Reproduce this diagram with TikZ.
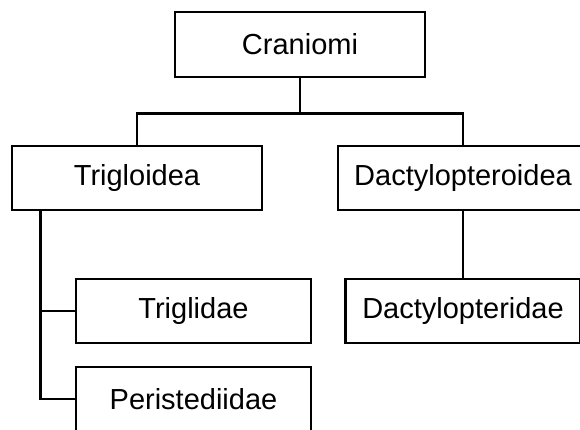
\documentclass[tikz,border=0pt]{standalone}
\usepackage{fontspec}
\setmainfont{Liberation Sans}
\begin{document}
\begin{tikzpicture}[x=1pt,y=-1pt,
  taxon/.style={draw=black, line width=2.8pt, rectangle, inner sep=0pt,
    minimum height=64pt, font=\fontsize{29}{34}\selectfont, fill=white},
  wide/.style={minimum width=250pt},
  narrow/.style={minimum width=235pt},
  conn/.style={draw=black, line width=2.8pt}]
\useasboundingbox (0,0) rectangle (580,430);
\clip (0,0) rectangle (580,430);
\node[taxon, wide, minimum height=65pt] (cran) at (300,44.5) {Craniomi};
\node[taxon, wide] (trig) at (137,178) {Trigloidea};
\node[taxon, wide] (dacty) at (463,178) {Dactylopteroidea};
\node[taxon, narrow] (trigl) at (193.5,311) {Triglidae};
\node[taxon, narrow] (peri) at (193.5,399) {Peristediidae};
\node[taxon, narrow] (dactyl) at (463,311) {Dactylopteridae};
\coordinate (stem) at ([xshift=30pt]trig.south west);
\draw[conn] (cran.south) -- ++(0,35) -| (trig.north);
\draw[conn] (cran.south) -- ++(0,35) -| (dacty.north);
\draw[conn] (stem) |- (trigl.west);
\draw[conn] (stem) |- (peri.west);
\draw[conn] (dacty.south) -- (dactyl.north);
\end{tikzpicture}
\end{document}
